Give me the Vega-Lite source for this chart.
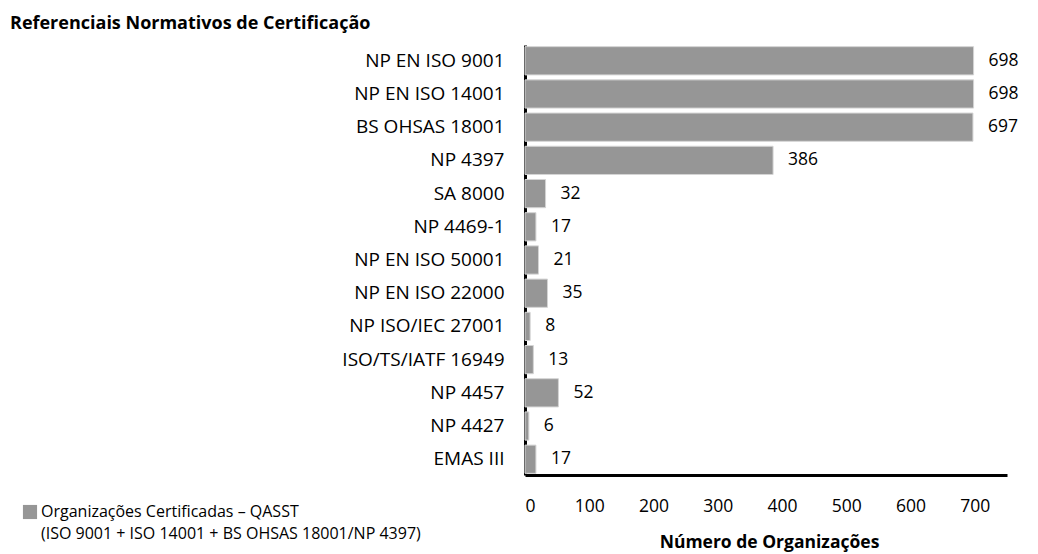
{
  "$schema": "https://vega.github.io/schema/vega-lite/v6.json",
  "width": 482,
  "height": 430,
  "autosize": {"type": "none"},
  "padding": {"left": 525, "top": 45, "right": 31, "bottom": 79},
  "background": "white",
  "title": {
    "text": "Referenciais Normativos de Certificação",
    "anchor": "start",
    "frame": "group",
    "dx": -515,
    "offset": 12,
    "font": "Open Sans",
    "fontSize": 18,
    "fontWeight": "bold",
    "color": "#000000"
  },
  "config": {
    "view": {"stroke": null},
    "font": "Open Sans",
    "axis": {
      "grid": false,
      "ticks": false,
      "domainColor": "#000000",
      "domainWidth": 3,
      "labelColor": "#000000",
      "labelFont": "Open Sans",
      "labelFontSize": 17.5,
      "zindex": 1
    }
  },
  "data": {
    "values": [
      {"referencial": "NP EN ISO 9001", "organizacoes": 698, "serie": "Organizações Certificadas – QASST"},
      {"referencial": "NP EN ISO 14001", "organizacoes": 698, "serie": "Organizações Certificadas – QASST"},
      {"referencial": "BS OHSAS 18001", "organizacoes": 697, "serie": "Organizações Certificadas – QASST"},
      {"referencial": "NP 4397", "organizacoes": 386, "serie": "Organizações Certificadas – QASST"},
      {"referencial": "SA 8000", "organizacoes": 32, "serie": "Organizações Certificadas – QASST"},
      {"referencial": "NP 4469-1", "organizacoes": 17, "serie": "Organizações Certificadas – QASST"},
      {"referencial": "NP EN ISO 50001", "organizacoes": 21, "serie": "Organizações Certificadas – QASST"},
      {"referencial": "NP EN ISO 22000", "organizacoes": 35, "serie": "Organizações Certificadas – QASST"},
      {"referencial": "NP ISO/IEC 27001", "organizacoes": 8, "serie": "Organizações Certificadas – QASST"},
      {"referencial": "ISO/TS/IATF 16949", "organizacoes": 13, "serie": "Organizações Certificadas – QASST"},
      {"referencial": "NP 4457", "organizacoes": 52, "serie": "Organizações Certificadas – QASST"},
      {"referencial": "NP 4427", "organizacoes": 6, "serie": "Organizações Certificadas – QASST"},
      {"referencial": "EMAS III", "organizacoes": 17, "serie": "Organizações Certificadas – QASST"}
    ]
  },
  "encoding": {
    "y": {
      "field": "referencial",
      "type": "nominal",
      "sort": null,
      "scale": {"paddingInner": 0.15, "paddingOuter": 0.05},
      "axis": {"title": null, "labelPadding": 21, "labelFontSize": 19}
    },
    "x": {
      "field": "organizacoes",
      "type": "quantitative",
      "scale": {"domain": [0, 750], "nice": false},
      "axis": {
        "values": [0, 100, 200, 300, 400, 500, 600, 700],
        "labelPadding": 22,
        "title": "Número de Organizações",
        "titleFont": "Open Sans",
        "titleFontSize": 17.5,
        "titleFontWeight": "bold",
        "titleColor": "#000000",
        "titlePadding": 19,
        "titleX": 244
      }
    }
  },
  "layer": [
    {
      "mark": {"type": "bar", "stroke": "#d4d4d4", "strokeWidth": 1},
      "encoding": {
        "color": {
          "field": "serie",
          "type": "nominal",
          "scale": {
            "domain": ["Organizações Certificadas – QASST", "(ISO 9001 + ISO 14001 + BS OHSAS 18001/NP 4397)"],
            "range": ["#969696", "#ffffff"]
          },
          "legend": {
            "title": null,
            "orient": "none",
            "legendX": -503,
            "legendY": 459,
            "symbolType": "square",
            "symbolSize": 200,
            "symbolStrokeWidth": 0,
            "padding": 0,
            "rowPadding": 6,
            "labelFont": "Open Sans",
            "labelFontSize": 16,
            "labelColor": "#000000",
            "labelOffset": 3,
            "labelLimit": 500
          }
        }
      }
    },
    {
      "mark": {"type": "text", "align": "left", "baseline": "middle", "dx": 15, "fontSize": 17.5, "font": "Open Sans", "color": "#000000"},
      "encoding": {
        "text": {"field": "organizacoes", "type": "quantitative"}
      }
    }
  ]
}
